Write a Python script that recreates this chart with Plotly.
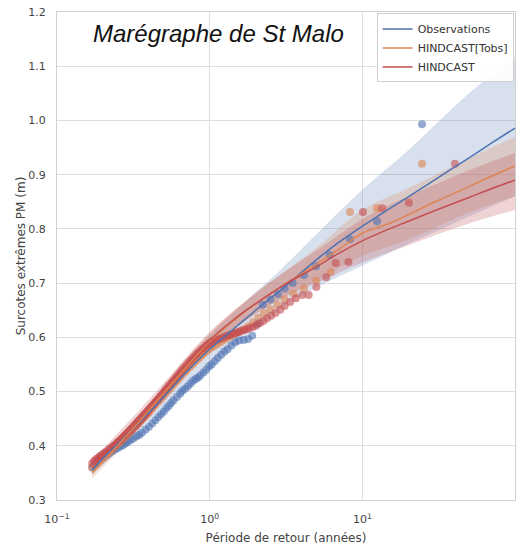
import plotly.graph_objects as go

# ---------------- data ----------------
# Observations (blue)
obs_T = [24.6, 12.5, 8.3, 6.1, 4.97, 4.15, 3.5, 3.1, 2.8, 2.5, 2.23, 2.05, 1.9, 1.78,
         1.67, 1.56, 1.47, 1.39, 1.31, 1.25, 1.19, 1.13, 1.08, 1.03, 0.99, 0.95, 0.91,
         0.87, 0.84, 0.81, 0.78, 0.75, 0.72, 0.69, 0.66, 0.64, 0.61, 0.58, 0.56, 0.54,
         0.52, 0.5, 0.48, 0.46, 0.44, 0.42, 0.40, 0.38, 0.36, 0.345, 0.33, 0.315, 0.30,
         0.29, 0.28, 0.27, 0.26, 0.25, 0.24, 0.23, 0.22, 0.21, 0.20, 0.195, 0.19, 0.185,
         0.18, 0.175, 0.17]
obs_H = [0.993, 0.814, 0.781, 0.752, 0.731, 0.715, 0.70, 0.69, 0.68, 0.67, 0.66, 0.625,
         0.603, 0.597, 0.595, 0.594, 0.591, 0.585, 0.578, 0.574, 0.568, 0.562, 0.556,
         0.55, 0.546, 0.54, 0.535, 0.53, 0.526, 0.523, 0.52, 0.515, 0.51, 0.505, 0.501,
         0.496, 0.49, 0.484, 0.479, 0.474, 0.469, 0.463, 0.458, 0.453, 0.447, 0.441,
         0.435, 0.43, 0.424, 0.42, 0.417, 0.413, 0.41, 0.407, 0.404, 0.401, 0.399,
         0.396, 0.393, 0.39, 0.386, 0.382, 0.378, 0.376, 0.373, 0.37, 0.367, 0.364, 0.36]

# HINDCAST[Tobs] (orange)
tobs_T = [24.6, 12.5, 8.3, 6.2, 5.0, 4.15, 3.55, 3.1, 2.78, 2.5, 2.27, 2.08, 1.92, 1.78,
          1.67, 1.56, 1.47, 1.39, 1.31, 1.25, 1.19, 1.13, 1.08, 1.04, 1.0, 0.96, 0.92,
          0.89, 0.86, 0.83, 0.8, 0.77, 0.74, 0.71, 0.69, 0.66, 0.64, 0.62, 0.6, 0.58,
          0.56, 0.54, 0.52, 0.5, 0.48, 0.46, 0.44, 0.42, 0.4, 0.385, 0.37, 0.355, 0.34,
          0.325, 0.31, 0.3, 0.29, 0.28, 0.27, 0.26, 0.25, 0.24, 0.23, 0.22, 0.21, 0.2,
          0.19, 0.18, 0.17]
tobs_H = [0.92, 0.838, 0.831, 0.72, 0.705, 0.69, 0.68, 0.67, 0.66, 0.652, 0.645, 0.636,
          0.628, 0.62, 0.615, 0.61, 0.607, 0.603, 0.599, 0.596, 0.592, 0.588, 0.585,
          0.582, 0.579, 0.575, 0.571, 0.567, 0.563, 0.559, 0.555, 0.55, 0.545, 0.54,
          0.536, 0.531, 0.527, 0.522, 0.518, 0.513, 0.508, 0.503, 0.498, 0.492, 0.486,
          0.481, 0.475, 0.468, 0.461, 0.456, 0.451, 0.446, 0.44, 0.435, 0.429, 0.425,
          0.421, 0.416, 0.412, 0.407, 0.403, 0.398, 0.393, 0.388, 0.383, 0.378, 0.372,
          0.366, 0.36]

# HINDCAST (red)
hind_T = [40.4, 20.2, 13.5, 10.1, 8.1, 6.7, 5.8, 5.0, 4.45, 4.05, 3.67, 3.37, 3.1, 2.9,
          2.7, 2.53, 2.38, 2.25, 2.13, 2.02, 1.92, 1.83, 1.75, 1.68, 1.6, 1.55, 1.5,
          1.45, 1.4, 1.35, 1.3, 1.25, 1.2, 1.16, 1.12, 1.08, 1.04, 1.0, 0.97, 0.94, 0.91,
          0.88, 0.85, 0.82, 0.79, 0.76, 0.735, 0.71, 0.685, 0.66, 0.64, 0.62, 0.6, 0.58,
          0.56, 0.54, 0.52, 0.505, 0.49, 0.475, 0.46, 0.445, 0.43, 0.415, 0.4, 0.39,
          0.38, 0.37, 0.36, 0.35, 0.34, 0.33, 0.32, 0.31, 0.3, 0.29, 0.28, 0.272, 0.264,
          0.256, 0.248, 0.24, 0.233, 0.226, 0.219, 0.212, 0.206, 0.2, 0.195, 0.19, 0.185,
          0.18, 0.175, 0.17]
hind_H = [0.92, 0.848, 0.838, 0.831, 0.739, 0.737, 0.711, 0.693, 0.678, 0.678, 0.672,
          0.665, 0.658, 0.651, 0.645, 0.64, 0.635, 0.63, 0.626, 0.622, 0.619, 0.617,
          0.615, 0.613, 0.612, 0.61, 0.609, 0.607, 0.606, 0.604, 0.603, 0.601, 0.599,
          0.597, 0.596, 0.594, 0.592, 0.59, 0.587, 0.584, 0.58, 0.577, 0.573, 0.569,
          0.564, 0.559, 0.555, 0.55, 0.545, 0.54, 0.535, 0.531, 0.526, 0.521, 0.516,
          0.511, 0.505, 0.5, 0.495, 0.491, 0.486, 0.481, 0.476, 0.471, 0.466, 0.462,
          0.458, 0.454, 0.45, 0.446, 0.442, 0.438, 0.434, 0.43, 0.427, 0.423, 0.419,
          0.416, 0.412, 0.409, 0.406, 0.402, 0.399, 0.396, 0.393, 0.39, 0.387, 0.385,
          0.382, 0.38, 0.377, 0.375, 0.372, 0.368]

# fitted curves
fit_T = [0.17, 0.2, 0.3, 0.5, 0.7, 1, 1.5, 2, 3, 5, 7, 10, 15, 20, 30, 50, 70, 100]
fit_obs = [0.355, 0.377, 0.425, 0.49, 0.535, 0.578, 0.62, 0.65, 0.69, 0.743, 0.775,
           0.805, 0.837, 0.859, 0.891, 0.931, 0.958, 0.986]
fit_tobs = [0.35, 0.372, 0.425, 0.497, 0.545, 0.593, 0.635, 0.662, 0.695, 0.735, 0.762,
            0.792, 0.81, 0.826, 0.85, 0.878, 0.897, 0.916]
fit_hind = [0.365, 0.385, 0.437, 0.505, 0.55, 0.595, 0.637, 0.662, 0.695, 0.73, 0.755,
            0.778, 0.8, 0.814, 0.834, 0.858, 0.874, 0.89]

# confidence bands
band_T = [0.17, 0.3, 0.5, 1, 2, 3, 5, 10, 20, 50, 100]
obs_lo = [0.346, 0.412, 0.474, 0.553, 0.617, 0.655, 0.692, 0.732, 0.772, 0.823, 0.86]
obs_hi = [0.364, 0.438, 0.506, 0.603, 0.683, 0.728, 0.79, 0.872, 0.945, 1.05, 1.117]
tobs_lo = [0.34, 0.413, 0.485, 0.578, 0.643, 0.672, 0.705, 0.75, 0.78, 0.83, 0.86]
tobs_hi = [0.36, 0.437, 0.51, 0.608, 0.682, 0.718, 0.765, 0.835, 0.875, 0.93, 0.97]
hind_lo = [0.356, 0.427, 0.494, 0.58, 0.643, 0.672, 0.7, 0.738, 0.77, 0.81, 0.835]
hind_hi = [0.374, 0.447, 0.516, 0.61, 0.681, 0.718, 0.76, 0.818, 0.86, 0.908, 0.94]

x_tickvals = [0.1, 1, 10, 100]
x_ticktext = ["10<sup>\u22121</sup>", "10<sup>0</sup>", "10<sup>1</sup>", "10<sup>2</sup>"]
y_tickvals = [0.3, 0.4, 0.5, 0.6, 0.7, 0.8, 0.9, 1.0, 1.1, 1.2]

for a, b in [(obs_T, obs_H), (tobs_T, tobs_H), (hind_T, hind_H),
             (band_T, obs_lo), (band_T, obs_hi), (band_T, tobs_lo), (band_T, tobs_hi),
             (band_T, hind_lo), (band_T, hind_hi)]:
    assert len(a) == len(b), (len(a), len(b))

series = [
    ("Observations", "76,114,176", obs_T, obs_H, fit_obs, obs_lo, obs_hi, 0.22),
    ("HINDCAST[Tobs]", "221,132,82", tobs_T, tobs_H, fit_tobs, tobs_lo, tobs_hi, 0.25),
    ("HINDCAST", "196,78,82", hind_T, hind_H, fit_hind, hind_lo, hind_hi, 0.25),
]

fig = go.Figure()
# bands
for name, rgb, T, H, fit, lo, hi, alpha in series:
    fig.add_trace(go.Scatter(x=band_T, y=lo, mode="lines", line=dict(width=0, shape="spline"),
                             showlegend=False, hoverinfo="skip"))
    fig.add_trace(go.Scatter(x=band_T, y=hi, mode="lines", line=dict(width=0, shape="spline"),
                             fill="tonexty", fillcolor=f"rgba({rgb},{alpha})",
                             showlegend=False, hoverinfo="skip"))
# points
for name, rgb, T, H, fit, lo, hi, alpha in series:
    fig.add_trace(go.Scatter(x=T, y=H, mode="markers",
                             marker=dict(size=8, color=f"rgba({rgb},0.6)", line=dict(width=0)),
                             showlegend=False))
# fitted lines
for name, rgb, T, H, fit, lo, hi, alpha in series:
    fig.add_trace(go.Scatter(x=fit_T, y=fit, mode="lines", name=name,
                             line=dict(color=f"rgb({rgb})", width=1.5, shape="spline")))

grid = "#dedede"
fig.update_layout(
    width=523, height=547,
    margin=dict(l=57, r=8, t=12, b=47, autoexpand=False),
    paper_bgcolor="white", plot_bgcolor="white",
    font=dict(family="DejaVu Sans", size=11, color="#444"),
    showlegend=True,
    legend=dict(x=0.997, y=0.997, xanchor="right", yanchor="top",
                traceorder="normal",
                bgcolor="rgba(255,255,255,0.9)", bordercolor="#d0d0d0", borderwidth=1,
                font=dict(family="DejaVu Sans", size=11, color="#333"),
                tracegroupgap=0, itemwidth=30),
    xaxis=dict(type="log", range=[-1, 2], tickvals=x_tickvals, ticktext=x_ticktext,
               automargin=False,
               showgrid=True, gridcolor=grid, gridwidth=1.2,
               showline=True, linecolor="#d0d0d0", linewidth=1.2, mirror=True,
               zeroline=False, ticks="", ticklabelstandoff=9,
               tickfont=dict(size=11, color="#444"),
               title=dict(text="Période de retour (années)", standoff=8,
                          font=dict(size=12, color="#444"))),
    yaxis=dict(range=[0.3, 1.2], tickvals=y_tickvals, tickformat=".1f",
               automargin=False,
               showgrid=True, gridcolor=grid, gridwidth=1.2,
               showline=True, linecolor="#d0d0d0", linewidth=1.2, mirror=True,
               zeroline=False, ticks="", ticklabelstandoff=8,
               tickfont=dict(size=11, color="#444"),
               title=dict(text="Surcotes extrêmes PM (m)", standoff=0,
                          font=dict(size=12, color="#444"))),
    annotations=[dict(text="Marégraphe de St Malo", xref="paper", yref="paper",
                      x=0.353, y=0.955, xanchor="center", yanchor="middle",
                      showarrow=False,
                      font=dict(family="Liberation Sans", size=24, color="#111",
                                style="italic"))],
)

fig.write_html("out.html")
